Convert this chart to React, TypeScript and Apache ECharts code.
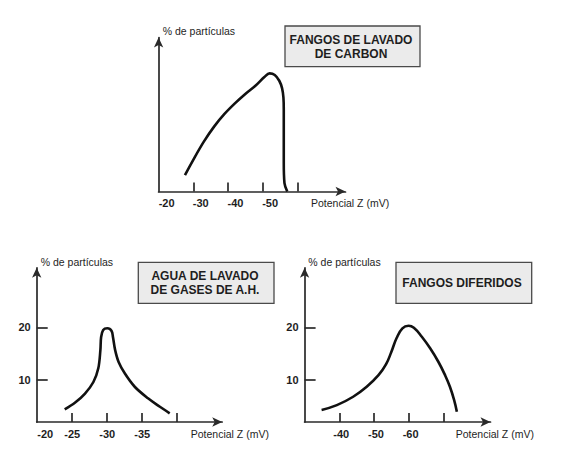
import React, { useEffect, useRef } from "react";
import * as echarts from "echarts";

// Top chart: FANGOS DE LAVADO DE CARBON
const carbonX = [-27.6, -30.0, -33.0, -36.0, -39.0, -42.0, -45.0, -48.0, -50.5, -52.0, -53.5, -54.8, -55.6, -56.0, -56.1, -56.1, -56.1, -56.3, -57.1];
const carbonY = [3.1, 6.0, 9.4, 12.3, 14.7, 16.7, 18.5, 20.1, 21.7, 22.4, 22.1, 21.0, 19.6, 17.8, 15.5, 11.0, 5.5, 1.6, 0];

// Bottom left: AGUA DE LAVADO DE GASES DE A.H.
const aguaX = [-24.0, -25.5, -26.9, -28.1, -28.8, -29.1, -29.2, -29.5, -30.1, -30.7, -30.9, -31.2, -31.7, -32.6, -34.0, -35.9, -37.6, -39.0];
const aguaY = [4.4, 5.7, 7.4, 9.6, 12.2, 15.7, 18.1, 19.5, 19.8, 19.3, 18.1, 15.7, 13.4, 11.2, 8.7, 6.5, 4.9, 3.65];

// Bottom right: FANGOS DIFERIDOS
const diferidosX = [-34.9, -39.3, -44.0, -47.9, -51.3, -53.5, -55.0, -56.5, -58.2, -60.0, -61.5, -63.8, -66.2, -68.6, -70.5, -71.9, -73.1, -73.9];
const diferidosY = [4.3, 5.2, 6.8, 8.7, 10.9, 13.0, 15.3, 17.9, 19.8, 20.3, 19.9, 18.2, 16.0, 13.4, 10.9, 8.7, 6.2, 3.95];

// Axis ticks and labels
const topTickMarks = [-30, -40, -50, -60];
const topTickLabels = [-20, -30, -40, -50];
const leftTickMarks = [-25, -30, -35, -40];
const leftTickLabels = [-20, -25, -30, -35];
const rightTickMarks = [-40, -50, -60, -70];
const rightTickLabels = [-40, -50, -60];
const yTickValues = [10, 20];

const titles = [
  ["FANGOS DE LAVADO", "DE CARBON"],
  ["AGUA DE LAVADO", "DE GASES DE A.H."],
  ["FANGOS DIFERIDOS"],
];
const yName = "% de partículas";
const xName = "Potencial Z (mV)";

const FONT = '"Liberation Sans", Arial, Helvetica, sans-serif';
const AXIS_COLOR = "#2a2a2a";
const TEXT_COLOR = "#1e1e1e";

const zip = (xs: number[], ys: number[]) => xs.map((x, i) => [x, ys[i]]);

export default function App() {
  const ref = useRef<HTMLDivElement>(null);

  useEffect(() => {
    if (!ref.current) return;
    const chart = echarts.init(ref.current, undefined, { renderer: "svg" });

    const axisLine = {
      show: true,
      onZero: false,
      symbol: ["none", "arrow"],
      symbolSize: [7, 10],
      lineStyle: { color: AXIS_COLOR, width: 1.7 },
    };
    const tickStyle = { color: AXIS_COLOR, width: 1.7 };
    const labelBase = {
      color: TEXT_COLOR,
      fontFamily: FONT,
      fontWeight: "bold" as const,
      fontSize: 11,
    };

    const xAxisCommon = (gridIndex: number, min: number, max: number, ticks: number[], labels: number[], shiftAll: number, shiftFirst: number) => ({
      type: "value",
      gridIndex,
      inverse: true,
      min,
      max,
      splitLine: { show: false },
      axisLine,
      axisTick: { show: true, inside: true, length: 9, customValues: ticks, lineStyle: tickStyle },
      axisLabel: {
        show: true,
        margin: 6,
        customValues: labels,
        ...labelBase,
        formatter: (v: number) => (v === max && shiftFirst ? `{f|${v}}` : `{n|${v}}`),
        rich: {
          f: { ...labelBase, padding: [0, 0, 0, shiftFirst] },
          n: { ...labelBase, padding: [0, 0, 0, shiftAll] },
        },
      },
    });

    const titleText = (x: number, y: number, text: string) => ({
      type: "text",
      x,
      y,
      style: { text, font: `bold 12px ${FONT}`, fill: TEXT_COLOR, align: "center", verticalAlign: "middle" },
    });
    const nameText = (x: number, y: number, text: string) => ({
      type: "text",
      x,
      y,
      style: { text, font: `10.5px ${FONT}`, fill: TEXT_COLOR, align: "left", verticalAlign: "middle" },
    });
    const boxStyle = { fill: "#ebebeb", stroke: "#4a4a4a", lineWidth: 1.3 };

    const option: any = {
      animation: false,
      backgroundColor: "#ffffff",
      grid: [
        { left: 158.6, top: 37.5, width: 186.9, height: 154 },
        { left: 36.7, top: 267.8, width: 185.5, height: 154.2 },
        { left: 304.6, top: 267.8, width: 185.9, height: 154.2 },
      ],
      xAxis: [
        xAxisCommon(0, -73.9, -20, topTickMarks, topTickLabels, 15, 16),
        xAxisCommon(1, -46.5, -20, leftTickMarks, leftTickLabels, 1, 17),
        xAxisCommon(2, -83.6, -30, rightTickMarks, rightTickLabels, 4, 0),
      ],
      yAxis: [
        {
          type: "value",
          gridIndex: 0,
          min: 0,
          max: 29.2,
          splitLine: { show: false },
          axisLine,
          axisTick: { show: false },
          axisLabel: { show: false },
        },
        ...[1, 2].map((gi) => ({
          type: "value",
          gridIndex: gi,
          min: 2,
          max: 31.3,
          splitLine: { show: false },
          axisLine,
          axisTick: { show: true, inside: true, length: 11, customValues: yTickValues, lineStyle: tickStyle },
          axisLabel: { show: true, margin: 6, customValues: yTickValues, ...labelBase },
        })),
      ],
      series: [
        { data: zip(carbonX, carbonY), idx: 0, smooth: 0.35 },
        { data: zip(aguaX, aguaY), idx: 1, smooth: 0.35 },
        { data: zip(diferidosX, diferidosY), idx: 2, smooth: 0.45 },
      ].map((s) => ({
        type: "line",
        xAxisIndex: s.idx,
        yAxisIndex: s.idx,
        data: s.data,
        smooth: s.smooth,
        symbol: "none",
        showSymbol: false,
        lineStyle: { color: "#111", width: 2.6 },
      })),
      graphic: [
        // title boxes
        { type: "rect", shape: { x: 285, y: 26, width: 135, height: 40.7 }, style: boxStyle },
        titleText(351, 40.0, titles[0][0]),
        titleText(351, 54.0, titles[0][1]),

        { type: "rect", shape: { x: 138.3, y: 262.3, width: 135.7, height: 41 }, style: boxStyle },
        titleText(205, 275.8, titles[1][0]),
        titleText(205, 289.8, titles[1][1]),

        { type: "rect", shape: { x: 396, y: 262.3, width: 135.7, height: 41 }, style: boxStyle },
        titleText(462, 283.3, titles[2][0]),

        // y axis names
        nameText(162.7, 30.7, yName),
        nameText(40.7, 261.7, yName),
        nameText(308.3, 261.7, yName),

        // x axis names
        nameText(311, 203.3, xName),
        nameText(190.7, 434, xName),
        nameText(455.7, 434, xName),
      ],
    };

    chart.setOption(option);
    return () => chart.dispose();
  }, []);

  return (
    <div
      ref={ref}
      style={{ position: "fixed", left: 0, top: 0, width: 568, height: 467, background: "#fff" }}
    />
  );
}
